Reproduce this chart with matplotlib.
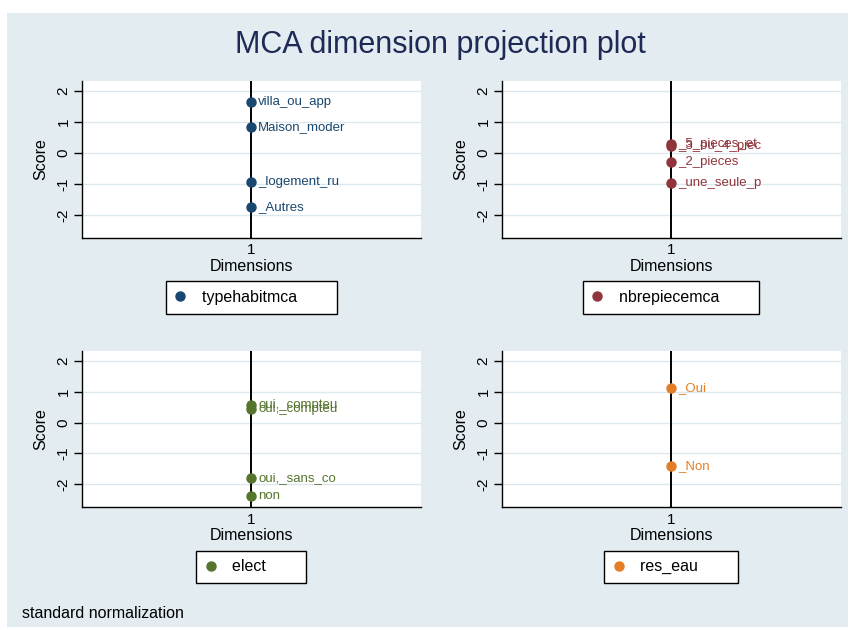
import matplotlib
matplotlib.use("Agg")
import matplotlib.pyplot as plt
from matplotlib.patches import Rectangle

plt.rcParams['font.family'] = ['Liberation Sans', 'DejaVu Sans']

# MCA projection scores (one panel per variable)
typehabit_labels = ['villa_ou_app', 'Maison_moder', '_logement_ru', '_Autres']
typehabit_scores = [1.64, 0.82, -0.93, -1.73]

nbrepiece_labels = ['_5_pieces_et', '_3_ou_4_piec', '_2_pieces', '_une_seule_p']
nbrepiece_scores = [0.28, 0.21, -0.31, -0.96]

elect_labels = ['oui,_compteu', 'oui,_compteu', 'oui,_sans_co', 'non']
elect_scores = [0.57, 0.43, -1.78, -2.38]

res_eau_labels = ['_Oui', '_Non']
res_eau_scores = [1.11, -1.41]

panels = [
    ('typehabitmca', typehabit_labels, typehabit_scores, '#1a476f'),
    ('nbrepiecemca', nbrepiece_labels, nbrepiece_scores, '#90353b'),
    ('elect', elect_labels, elect_scores, '#55752f'),
    ('res_eau', res_eau_labels, res_eau_scores, '#e37e26'),
]
y_ticks = [-2, -1, 0, 1, 2]
dimension = 1

W, H = 853, 630
fig = plt.figure(figsize=(W / 100, H / 100), dpi=100, facecolor='white')

# light bluish graph region
bg = '#e2ecf1'
fig.patches.append(Rectangle((7 / W, 3 / H), 841 / W, 614 / H,
                             transform=fig.transFigure, facecolor=bg,
                             edgecolor='none', zorder=-10))

fig.text(440 / W, 1 - 45 / H, 'MCA dimension projection plot',
         ha='center', va='center', fontsize=22, color='#1e2a55')
fig.text(22 / W, 1 - 614 / H, 'standard normalization',
         ha='left', va='center', fontsize=11.5, color='black')

# axes boxes in pixels: (left, top, right, bottom)
boxes = [(81.7, 81, 421, 237.7), (501.7, 81, 840.7, 237.7),
         (81.7, 351, 421, 507), (501.7, 351, 840.7, 507)]

for (name, labels, scores, color), (l, t, r, b) in zip(panels, boxes):
    ax = fig.add_axes([l / W, 1 - b / H, (r - l) / W, (b - t) / H])
    ax.set_facecolor('white')
    ax.set_xlim(0.5, 1.5)
    ax.set_ylim(-2.73, 2.31)
    for s in ['top', 'right']:
        ax.spines[s].set_visible(False)
    for s in ['left', 'bottom']:
        ax.spines[s].set_linewidth(1.0)
        ax.spines[s].set_color('black')

    ax.set_yticks(y_ticks)
    ax.set_yticklabels([str(v) for v in y_ticks], rotation=90, va='center', fontsize=11)
    ax.tick_params(axis='y', length=6, width=1, pad=2)
    ax.set_xticks([dimension])
    ax.set_xticklabels([str(dimension)], fontsize=11)
    ax.tick_params(axis='x', length=0, pad=4)
    ax.grid(axis='y', color='#dde8ee', linewidth=1.0)
    ax.set_axisbelow(True)

    ax.axvline(dimension, color='black', linewidth=1.4, zorder=2)
    # trailing spaces give the wide right padding of the Stata legend box
    ax.plot([dimension] * len(scores), scores, 'o', color=color,
            markersize=6.5, zorder=3, label=name + '       ')
    for lab, sc in zip(labels, scores):
        ax.annotate(lab, (dimension, sc), xytext=(5, 0),
                    textcoords='offset points', va='center', ha='left',
                    fontsize=9.5, color=color, zorder=4)

    ax.set_ylabel('Score', fontsize=11.5, labelpad=6)
    ax.set_xlabel('Dimensions', fontsize=11.5, labelpad=1)

    # legend box sits about 43 px under the axes
    leg_top = b + 43.5
    leg = ax.legend(loc='upper center', bbox_to_anchor=(0.5, -(leg_top - b) / (b - t)),
                    frameon=True, fancybox=False, fontsize=11.5, borderpad=0.55,
                    handlelength=0.7, handletextpad=1.0, borderaxespad=0,
                    markerscale=1.0)
    frame = leg.get_frame()
    frame.set_edgecolor('black')
    frame.set_linewidth(1.0)
    frame.set_facecolor('white')
    frame.set_alpha(1)

fig.savefig('out.png', dpi=100, facecolor='white')
